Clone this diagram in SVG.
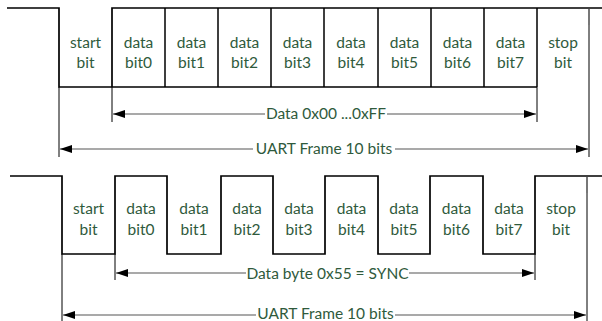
<svg xmlns="http://www.w3.org/2000/svg" width="602" height="321" viewBox="0 0 602 321">
  <style>
    .wave { fill: none; stroke: #000; stroke-width: 1.7; stroke-linejoin: miter; }
    .cell { fill: none; stroke: #000; stroke-width: 1.5; }
    .ext { fill: none; stroke: #000; stroke-width: 1; }
    .tick { fill: none; stroke: #777; stroke-width: 2; }
    .dim { fill: none; stroke: #555; stroke-width: 1.2; }
    .gap { fill: #fff; }
    .lbl { font-family: Lato, "Open Sans", "Liberation Sans", sans-serif; font-size: 15.5px; fill: #2f5a3c; text-anchor: middle; }
  </style>
  <defs>
    <marker id="arrow" viewBox="0 0 12 8" refX="12" refY="4" markerWidth="12" markerHeight="8" markerUnits="userSpaceOnUse" orient="auto-start-reverse">
      <path d="M0,0 L12,4 L0,8 Z" fill="#000"/>
    </marker>
  </defs>

  <!-- Frame 1: arbitrary data byte -->
  <g id="frame1-wave">
    <path class="wave" d="M7,8 H59 V87 H537"/>
    <path class="wave" d="M112,87 V8 H602"/>
    <path class="cell" d="M165,8 V87 M218,8 V87 M271,8 V87 M324,8 V87 M378,8 V87 M431,8 V87 M484,8 V87 M537,8 V87"/>
  </g>
  <g id="frame1-labels">
    <text class="lbl" x="85.5" y="47.5">start</text><text class="lbl" x="85.5" y="68">bit</text>
    <text class="lbl" x="138.5" y="47.5">data</text><text class="lbl" x="138.5" y="68">bit0</text>
    <text class="lbl" x="191.5" y="47.5">data</text><text class="lbl" x="191.5" y="68">bit1</text>
    <text class="lbl" x="244.5" y="47.5">data</text><text class="lbl" x="244.5" y="68">bit2</text>
    <text class="lbl" x="297.5" y="47.5">data</text><text class="lbl" x="297.5" y="68">bit3</text>
    <text class="lbl" x="351" y="47.5">data</text><text class="lbl" x="351" y="68">bit4</text>
    <text class="lbl" x="404.5" y="47.5">data</text><text class="lbl" x="404.5" y="68">bit5</text>
    <text class="lbl" x="457.5" y="47.5">data</text><text class="lbl" x="457.5" y="68">bit6</text>
    <text class="lbl" x="510.5" y="47.5">data</text><text class="lbl" x="510.5" y="68">bit7</text>
    <text class="lbl" x="563" y="47.5">stop</text><text class="lbl" x="563" y="68">bit</text>
  </g>

  <!-- Frame 2: 0x55 sync byte -->
  <g id="frame2-wave">
    <path class="wave" d="M10,176 H62 V254 H115 V176 H167 V254 H221 V176 H273 V254 H325 V176 H378 V254 H430 V176 H483 V254 H535 V176 H602"/>
  </g>
  <g id="frame2-labels">
    <text class="lbl" x="88.5" y="214">start</text><text class="lbl" x="88.5" y="235">bit</text>
    <text class="lbl" x="141" y="214">data</text><text class="lbl" x="141" y="235">bit0</text>
    <text class="lbl" x="194" y="214">data</text><text class="lbl" x="194" y="235">bit1</text>
    <text class="lbl" x="247" y="214">data</text><text class="lbl" x="247" y="235">bit2</text>
    <text class="lbl" x="299" y="214">data</text><text class="lbl" x="299" y="235">bit3</text>
    <text class="lbl" x="351.5" y="214">data</text><text class="lbl" x="351.5" y="235">bit4</text>
    <text class="lbl" x="404" y="214">data</text><text class="lbl" x="404" y="235">bit5</text>
    <text class="lbl" x="456.5" y="214">data</text><text class="lbl" x="456.5" y="235">bit6</text>
    <text class="lbl" x="509" y="214">data</text><text class="lbl" x="509" y="235">bit7</text>
    <text class="lbl" x="561" y="214">stop</text><text class="lbl" x="561" y="235">bit</text>
  </g>

  <!-- Dimension lines -->
  <g id="connectors">
    <path class="ext" d="M59,87 V157 M112,87 V122 M537,87 V122 M589,9 V157"/>
    <path class="tick" d="M589,9 V25"/>
    <path class="ext" d="M62,254 V321 M115,254 V280 M535,254 V280 M587,177 V321"/>
    <path class="tick" d="M587,177 V193"/>

    <line class="dim" x1="113" y1="114" x2="536" y2="114" marker-start="url(#arrow)" marker-end="url(#arrow)"/>
    <line class="dim" x1="60" y1="149" x2="588" y2="149" marker-start="url(#arrow)" marker-end="url(#arrow)"/>
    <line class="dim" x1="116" y1="273" x2="534" y2="273" marker-start="url(#arrow)" marker-end="url(#arrow)"/>
    <line class="dim" x1="63" y1="315" x2="586" y2="315" marker-start="url(#arrow)" marker-end="url(#arrow)"/>
  </g>
  <g id="dimension-labels">
    <rect class="gap" x="265" y="107" width="122" height="14"/>
    <text class="lbl" x="326" y="119">Data 0x00 ...0xFF</text>
    <rect class="gap" x="253" y="142" width="142" height="14"/>
    <text class="lbl" x="324" y="154">UART Frame 10 bits</text>
    <rect class="gap" x="246" y="266" width="163" height="14"/>
    <text class="lbl" x="327.5" y="278.5">Data byte 0x55 = SYNC</text>
    <rect class="gap" x="256" y="308" width="139" height="13"/>
    <text class="lbl" x="325.5" y="319">UART Frame 10 bits</text>
  </g>
</svg>
